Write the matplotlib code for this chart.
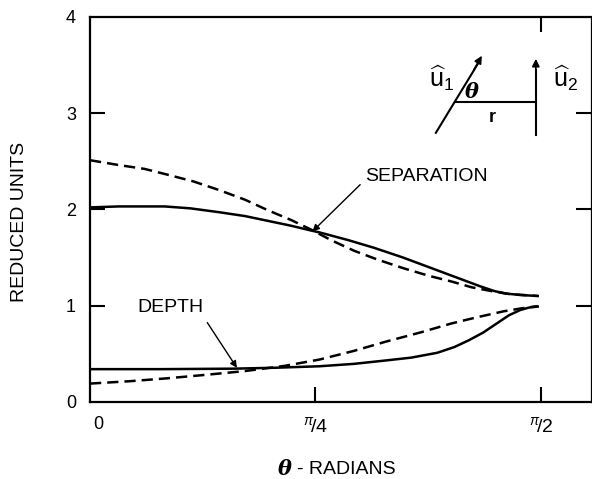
import numpy as np
import matplotlib
matplotlib.use('Agg')
import matplotlib.pyplot as plt
import matplotlib.transforms as mtransforms

plt.rcParams['font.family'] = ['Liberation Sans', 'DejaVu Sans']
plt.rcParams['mathtext.fontset'] = 'custom'
plt.rcParams['mathtext.rm'] = 'Liberation Sans'
plt.rcParams['mathtext.it'] = 'Liberation Sans:italic'

# separation curves (theta in radians)
sep_solid_x = [0.0, 0.10, 0.26, 0.35, 0.45, 0.54, 0.62, 0.70, 0.77, 0.80, 0.90, 0.99,
               1.09, 1.18, 1.27, 1.36, 1.41, 1.45, 1.50, 1.56]
sep_solid_y = [2.02, 2.03, 2.03, 2.01, 1.97, 1.93, 1.88, 1.83, 1.78, 1.76, 1.68, 1.60,
               1.50, 1.40, 1.30, 1.20, 1.15, 1.125, 1.11, 1.10]
sep_dash_x = [0.0, 0.10, 0.19, 0.27, 0.36, 0.45, 0.54, 0.62, 0.70, 0.77, 0.84, 0.92,
              1.00, 1.09, 1.18, 1.26, 1.33, 1.40, 1.46, 1.51, 1.56]
sep_dash_y = [2.51, 2.46, 2.42, 2.36, 2.29, 2.20, 2.10, 1.99, 1.89, 1.79, 1.68, 1.57,
              1.48, 1.39, 1.31, 1.25, 1.19, 1.15, 1.12, 1.11, 1.10]

# depth curves
dep_solid_x = [0.0, 0.25, 0.50, 0.65, 0.80, 0.92, 1.03, 1.12, 1.21, 1.27, 1.32, 1.37,
               1.42, 1.46, 1.50, 1.53, 1.56]
dep_solid_y = [0.34, 0.34, 0.345, 0.355, 0.37, 0.395, 0.43, 0.46, 0.51, 0.57, 0.64, 0.72,
               0.82, 0.90, 0.955, 0.98, 0.99]
dep_dash_x = [0.0, 0.14, 0.27, 0.40, 0.54, 0.68, 0.80, 0.92, 1.03, 1.15, 1.26, 1.35,
              1.44, 1.50, 1.56]
dep_dash_y = [0.19, 0.215, 0.245, 0.28, 0.32, 0.375, 0.44, 0.53, 0.625, 0.72, 0.815, 0.88,
              0.94, 0.97, 0.995]

xticks = [0, np.pi / 4, np.pi / 2]
xtick_labels = ['0', r'$^{\pi}\!/\mathregular{4}$', r'$^{\pi}\!/\mathregular{2}$']
yticks = [0, 1, 2, 3, 4]

fig = plt.figure(figsize=(5.92, 4.79), dpi=100)
ax = fig.add_axes([0.152, 0.161, 0.846, 0.804])

lw = 1.8
dash = (4.5, 2.4)
ax.plot(sep_solid_x, sep_solid_y, color='black', lw=lw)
ax.plot(sep_dash_x, sep_dash_y, color='black', lw=lw, dashes=dash)
ax.plot(dep_solid_x, dep_solid_y, color='black', lw=lw)
ax.plot(dep_dash_x, dep_dash_y, color='black', lw=lw, dashes=dash)

ax.set_xlim(0, 1.745)
ax.set_ylim(0, 4)

ax.set_xticks(xticks)
ax.set_xticklabels(xtick_labels, fontsize=14)
ax.set_yticks(yticks)
ax.set_yticklabels([str(v) for v in yticks], fontsize=13)
ax.tick_params(direction='in', length=11, width=1.5, top=True, right=True)
ax.tick_params(axis='x', pad=10)
ax.tick_params(axis='y', pad=10)
# no tick marks where the ticks sit on the frame
for t in ax.xaxis.get_major_ticks()[:1]:
    t.tick1line.set_visible(False)
    t.tick2line.set_visible(False)
for t in ax.yaxis.get_major_ticks():
    if t.get_loc() in (0, 4):
        t.tick1line.set_visible(False)
        t.tick2line.set_visible(False)
ax.xaxis.get_major_ticks()[1].tick2line.set_visible(False)
# the "0" under the x axis sits a little to the right
lab0 = ax.get_xticklabels()[0]
lab0.set_fontsize(13)
lab0.set_transform(lab0.get_transform() + mtransforms.ScaledTranslation(6 / 72, 0, fig.dpi_scale_trans))

for s in ax.spines.values():
    s.set_linewidth(1.6)
ax.spines['right'].set_linewidth(0.9)

fig.text(20 / 592, 0.5365, 'REDUCED UNITS', fontsize=14, rotation=90, ha='center', va='center')
fig.text(285 / 592, 0.021, 'θ', fontsize=15, ha='center', va='center',
         fontweight='bold', style='italic', family='DejaVu Serif')
fig.text(297 / 592, 0.019, '- RADIANS', fontsize=14, ha='left', va='center')

# curve labels
ax.annotate('SEPARATION', xy=(0.775, 1.77), xytext=(0.958, 2.34),
            fontsize=14, ha='left', va='center',
            arrowprops=dict(arrowstyle='-|>', color='black', lw=1.0,
                            mutation_scale=10, shrinkA=2, shrinkB=0,
                            relpos=(0, 0.3)))
ax.annotate('DEPTH', xy=(0.512, 0.353), xytext=(0.164, 0.977),
            fontsize=14, ha='left', va='center',
            arrowprops=dict(arrowstyle='-|>', color='black', lw=1.0,
                            mutation_scale=10, shrinkA=3, shrinkB=0,
                            relpos=(1.0, 0.0)))

# inset sketch of the two vectors
tr = ax.transAxes
def fx(px):
    return (px - 90) / 501.0
def fy(py):
    return (402 - py) / 385.0

ax.plot([fx(436), fx(478)], [fy(133), fy(64)], color='black', lw=1.5, transform=tr)
ax.annotate('', xy=(fx(482), fy(56)), xytext=(fx(474), fy(70)), xycoords=tr,
            arrowprops=dict(arrowstyle='-|>', color='black', lw=1.2, mutation_scale=11,
                            shrinkA=0, shrinkB=0))
ax.plot([fx(455), fx(536)], [fy(102), fy(102)], color='black', lw=1.5, transform=tr)
ax.plot([fx(536), fx(536)], [fy(135), fy(70)], color='black', lw=1.5, transform=tr)
ax.annotate('', xy=(fx(536), fy(59)), xytext=(fx(536), fy(75)), xycoords=tr,
            arrowprops=dict(arrowstyle='-|>', color='black', lw=1.2, mutation_scale=11,
                            shrinkA=0, shrinkB=0))
ax.text(fx(442), fy(78), r'$\widehat{\mathrm{u}}_{\mathrm{1}}$', transform=tr, fontsize=18,
        ha='center', va='center')
ax.text(fx(566), fy(78), r'$\widehat{\mathrm{u}}_{\mathrm{2}}$', transform=tr, fontsize=18,
        ha='center', va='center')
ax.text(fx(472), fy(92), 'θ', transform=tr, fontsize=15, ha='center', va='center',
        fontweight='bold', style='italic', family='DejaVu Serif')
ax.text(fx(492), fy(118), 'r', transform=tr, fontsize=13, ha='center', va='center',
        fontweight='bold')

fig.savefig('out.png', dpi=100)
